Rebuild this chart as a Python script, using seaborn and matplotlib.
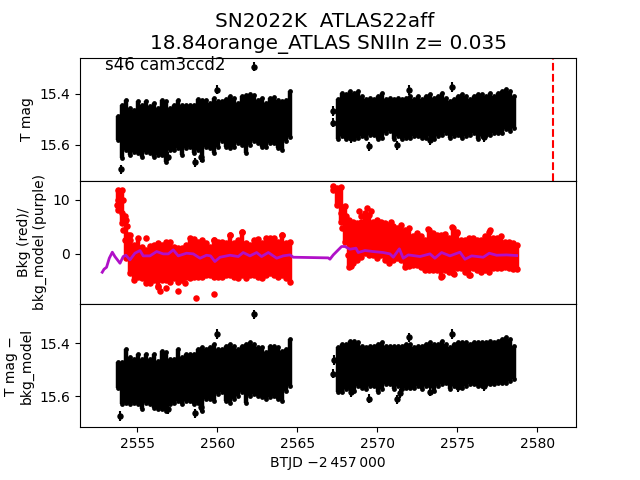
import numpy as np
import pandas as pd
import matplotlib
matplotlib.use("Agg")
import matplotlib.pyplot as plt
import seaborn as sns

TITLE = "SN2022K  ATLAS22aff \n18.84orange_ATLAS SNIIn z= 0.035"
LABEL = "s46 cam3ccd2"
XLABEL = "BTJD \u22122\u2009457\u2009000"
T0 = 2581.0

# Cloud outline read per time step: faint and bright edges of the dense points
t_left = [2553.80 + 0.25 * i for i in range(44)]
t_right = [2567.55 + 0.25 * i for i in range(45)]
t_bkg_right = [2567.25 + 0.25 * i for i in range(47)]

mag_hi_left = [15.489,15.443,15.424,15.456,15.463,15.430,15.443,15.430,15.450,15.437,15.456,15.424,15.430,15.456,15.443,15.424,15.443,15.443,15.443,15.443,15.421,15.424,15.424,15.437,15.417,15.430,15.430,15.421,15.410,15.417,15.437,15.410,15.404,15.400,15.404,15.424,15.417,15.437,15.417,15.413,15.424,15.430,15.424,15.391]
mag_lo_left = [15.581,15.653,15.620,15.640,15.627,15.633,15.646,15.627,15.633,15.646,15.640,15.640,15.666,15.620,15.620,15.614,15.640,15.614,15.607,15.633,15.620,15.659,15.607,15.614,15.633,15.607,15.587,15.607,15.614,15.607,15.594,15.600,15.633,15.600,15.587,15.594,15.607,15.607,15.594,15.594,15.614,15.620,15.587,15.568]
mag_hi_right = [15.422,15.396,15.403,15.390,15.396,15.390,15.409,15.422,15.416,15.422,15.409,15.396,15.422,15.416,15.422,15.416,15.422,15.416,15.409,15.422,15.409,15.422,15.409,15.403,15.416,15.409,15.396,15.416,15.429,15.422,15.409,15.403,15.409,15.422,15.409,15.403,15.403,15.409,15.396,15.409,15.396,15.390,15.383,15.390,15.409]
mag_lo_right = [15.579,15.566,15.579,15.573,15.579,15.573,15.566,15.573,15.560,15.560,15.579,15.573,15.553,15.547,15.579,15.566,15.579,15.573,15.573,15.566,15.566,15.573,15.573,15.566,15.579,15.566,15.560,15.553,15.573,15.566,15.560,15.573,15.566,15.560,15.553,15.579,15.566,15.560,15.560,15.553,15.553,15.553,15.540,15.547,15.534]
mag_out_t = [2562.28,2559.99,2553.95,2558.61,2558.95,2556.89,2567.24,2567.24,2569.49,2571.24,2571.97,2574.68,2573.30,2568.34,2576.68]
mag_out_v = [15.295,15.384,15.696,15.669,15.649,15.646,15.468,15.514,15.606,15.602,15.386,15.374,15.583,15.575,15.570]

sub_hi_left = [15.473,15.473,15.423,15.454,15.460,15.442,15.460,15.442,15.460,15.442,15.467,15.429,15.435,15.460,15.460,15.423,15.454,15.442,15.442,15.442,15.423,15.416,15.423,15.416,15.404,15.423,15.423,15.410,15.404,15.410,15.423,15.410,15.404,15.397,15.404,15.416,15.416,15.435,15.410,15.410,15.416,15.429,15.423,15.385]
sub_lo_left = [15.568,15.631,15.624,15.631,15.624,15.631,15.649,15.624,15.631,15.643,15.649,15.649,15.656,15.631,15.624,15.618,15.631,15.618,15.618,15.631,15.624,15.656,15.612,15.612,15.618,15.593,15.586,15.618,15.624,15.612,15.599,15.586,15.624,15.599,15.593,15.599,15.605,15.612,15.605,15.599,15.612,15.618,15.580,15.561]
sub_hi_right = [15.416,15.404,15.404,15.391,15.391,15.397,15.410,15.416,15.410,15.410,15.404,15.397,15.410,15.410,15.410,15.410,15.410,15.404,15.404,15.416,15.410,15.410,15.404,15.397,15.404,15.404,15.391,15.404,15.416,15.404,15.397,15.397,15.397,15.404,15.397,15.397,15.397,15.397,15.391,15.397,15.391,15.385,15.379,15.385,15.410]
sub_lo_right = [15.586,15.586,15.574,15.574,15.580,15.561,15.568,15.574,15.561,15.561,15.586,15.574,15.555,15.555,15.574,15.561,15.574,15.568,15.568,15.568,15.561,15.574,15.561,15.561,15.580,15.561,15.555,15.549,15.574,15.561,15.561,15.568,15.561,15.555,15.555,15.561,15.561,15.555,15.555,15.555,15.549,15.549,15.549,15.542,15.536]
sub_out_t = [2562.28,2559.99,2553.93,2558.61,2558.96,2556.89,2567.24,2567.26,2569.49,2571.24,2571.40,2571.97,2574.68,2573.30,2568.34,2576.68,2575.04]
sub_out_v = [15.292,15.366,15.675,15.665,15.641,15.649,15.515,15.464,15.609,15.612,15.590,15.379,15.366,15.583,15.586,15.561,15.565]

bkg_hi_left = [11.85,11.85,6.29,3.52,1.67,2.90,1.36,0.74,1.48,1.67,1.97,1.67,2.28,2.28,1.36,1.05,1.05,1.67,2.90,2.71,2.28,2.59,1.97,1.36,2.59,2.28,2.28,1.97,3.52,1.97,2.59,4.13,1.97,1.67,2.59,2.71,1.97,2.90,2.90,2.90,2.28,3.52,1.97,2.28]
bkg_lo_left = [8.14,5.68,-0.80,-3.58,-4.81,-4.20,-4.50,-5.43,-5.43,-4.81,-6.05,-4.81,-4.81,-5.12,-4.50,-5.12,-4.81,-4.20,-4.50,-4.20,-4.20,-4.20,-3.89,-3.89,-4.20,-4.20,-4.20,-3.89,-3.89,-4.20,-4.50,-3.89,-4.50,-3.89,-3.89,-4.20,-4.50,-3.89,-3.58,-3.89,-4.20,-3.89,-4.50,-5.12]
bkg_hi_right = [12.59,12.15,12.34,8.76,6.29,5.98,5.68,5.98,7.53,7.22,5.98,6.29,5.98,5.68,5.37,5.06,4.75,5.37,4.44,4.75,3.21,3.83,3.21,2.59,4.44,3.83,3.52,3.52,3.70,2.90,4.75,3.83,2.59,2.59,2.90,2.90,2.59,2.59,3.21,4.13,2.90,2.90,3.21,2.28,2.28,1.97,1.67]
bkg_lo_right = [11.85,9.07,5.98,2.28,-2.34,-1.73,-1.11,-0.62,0.12,-0.19,-0.19,-0.80,-0.19,-1.11,-1.73,-1.11,-0.80,-1.11,-2.34,-2.22,-2.04,-2.04,-2.34,-2.96,-2.96,-2.96,-2.96,-4.20,-2.96,-3.27,-3.58,-2.65,-2.65,-3.27,-3.89,-2.65,-2.96,-3.27,-2.96,-3.27,-2.65,-2.65,-2.65,-2.47,-2.65,-2.84,-2.84]
bkg_out_t = [2558.68,2559.80,2556.30,2556.43,2556.80,2557.55,2557.98,2560.80,2561.55,2564.05,2555.55,2559.80,2568.86,2569.00,2569.32,2569.57,2570.86,2574.68,2574.99,2573.18,2577.03,2574.05,2574.80,2575.80,2568.32,
             2553.80,2553.74,2553.91,2554.11,2554.01,2554.11,2554.22,2554.11,2554.32,2554.43,2554.22,2554.53,
             2567.61,2567.70,2567.86,2567.91,2567.78,2568.03,2568.07,2568.18,2568.18]
bkg_out_v = [-8.20,-7.47,-5.86,-6.79,-6.35,-6.79,-5.43,3.52,4.13,3.52,2.90,2.59,7.84,7.03,8.45,7.84,5.98,4.94,4.01,4.57,4.44,-4.13,-3.76,-3.95,-2.22,
             9.99,9.07,10.92,9.99,7.53,6.29,6.91,4.44,5.06,3.52,2.59,2.59,
             9.69,7.53,8.14,5.98,4.75,6.91,4.44,2.59,-0.19]

model_t = [2552.80,2552.91,2553.07,2553.24,2553.43,2553.59,2553.91,2554.11,2554.28,2554.53,2554.84,2555.16,2555.36,2555.78,2556.20,2556.61,2556.93,2557.24,2557.55,2558.07,2558.49,2558.91,2559.32,2559.57,2559.84,2560.16,2560.78,2561.30,2561.61,2562.03,2562.45,2562.76,2563.18,2563.70,2564.11,2564.53,2564.74,2566.93,2567.03,2567.24,2567.76,2567.97,2568.28,2568.66,2568.80,2569.22,2569.74,2570.36,2570.78,2570.99,2571.37,2571.61,2571.93,2572.66,2573.28,2573.59,2574.01,2574.53,2575.16,2575.47,2575.89,2576.61,2576.99,2577.45,2578.07,2578.70]
model_v = [-3.39,-2.84,-2.47,-0.80,0.31,-0.49,-1.73,-0.49,-0.25,-1.11,0.12,0.62,-0.37,-0.37,0.43,0.00,0.00,0.74,-0.37,0.12,0.00,-0.80,-0.25,-0.37,-1.42,-0.62,-0.25,-0.49,0.25,-0.37,0.25,-0.49,0.25,-0.80,-0.37,-0.19,-0.62,-0.74,-0.99,-0.19,1.36,1.36,0.86,1.05,0.25,0.62,0.43,0.25,0.00,-0.62,0.93,-0.80,-0.19,-0.49,0.00,-0.80,0.25,-0.37,0.31,-0.99,-0.37,-0.62,0.12,-0.25,-0.19,-0.31]


def cloud(ax, t, hi, lo, color, width, size):
    t, hi, lo = np.array(t), np.array(hi), np.array(lo)
    ax.errorbar(t, (hi + lo) / 2, yerr=np.abs(lo - hi) / 2, fmt="none",
                ecolor=color, elinewidth=width, zorder=2)
    edges = pd.DataFrame({"t": np.r_[t, t], "v": np.r_[hi, lo]})
    sns.scatterplot(data=edges, x="t", y="v", ax=ax, color=color, s=size,
                    linewidth=0, zorder=2)


def phot(ax, t_l, hi_l, lo_l, t_r, hi_r, lo_r, out_t, out_v):
    cloud(ax, t_l, hi_l, lo_l, "k", 3.2, 12)
    cloud(ax, t_r, hi_r, lo_r, "k", 3.2, 12)
    ax.errorbar(out_t, out_v, yerr=0.018, fmt="o", color="k", ms=3.6,
                elinewidth=1.5, zorder=2)


fig, axes = plt.subplots(3, 1, figsize=(6.4, 4.8), dpi=100, sharex=True)
fig.subplots_adjust(hspace=0)
a1, a2, a3 = axes

phot(a1, t_left, mag_hi_left, mag_lo_left, t_right, mag_hi_right, mag_lo_right, mag_out_t, mag_out_v)
a1.axvline(T0, color="r", ls="--", lw=1.5)
a1.set_ylim(15.741, 15.259)
a1.set_yticks([15.4, 15.6])
a1.set_ylabel("T mag")
a1.set_title(TITLE, fontsize=14.4)
a1.text(2552.95, 15.306, LABEL, fontsize=12)

cloud(a2, t_left, bkg_hi_left, bkg_lo_left, "r", 3.2, 22)
cloud(a2, t_bkg_right, bkg_hi_right, bkg_lo_right, "r", 3.2, 22)
sns.scatterplot(x=bkg_out_t, y=bkg_out_v, ax=a2, color="r", s=22, linewidth=0, zorder=2)
sns.lineplot(x=model_t, y=model_v, ax=a2, color="#b010c8", lw=2, zorder=3,
             estimator=None, sort=False)
a2.set_ylim(-9.26, 13.5)
a2.set_yticks([0, 10])
a2.set_ylabel("Bkg (red)/\nbkg_model (purple)")

phot(a3, t_left, sub_hi_left, sub_lo_left, t_right, sub_hi_right, sub_lo_right, sub_out_t, sub_out_v)
a3.set_ylim(15.717, 15.253)
a3.set_yticks([15.4, 15.6])
a3.set_ylabel("T mag \u2212\nbkg_model")
a3.set_xlabel(XLABEL)

a3.set_xlim(2551.41, 2582.41)
a3.set_xticks([2555, 2560, 2565, 2570, 2575, 2580])
for a in (a1, a2):
    a.tick_params(axis="x", bottom=False)
    a.set_xlabel("")

fig.savefig("out.png", dpi=100)
